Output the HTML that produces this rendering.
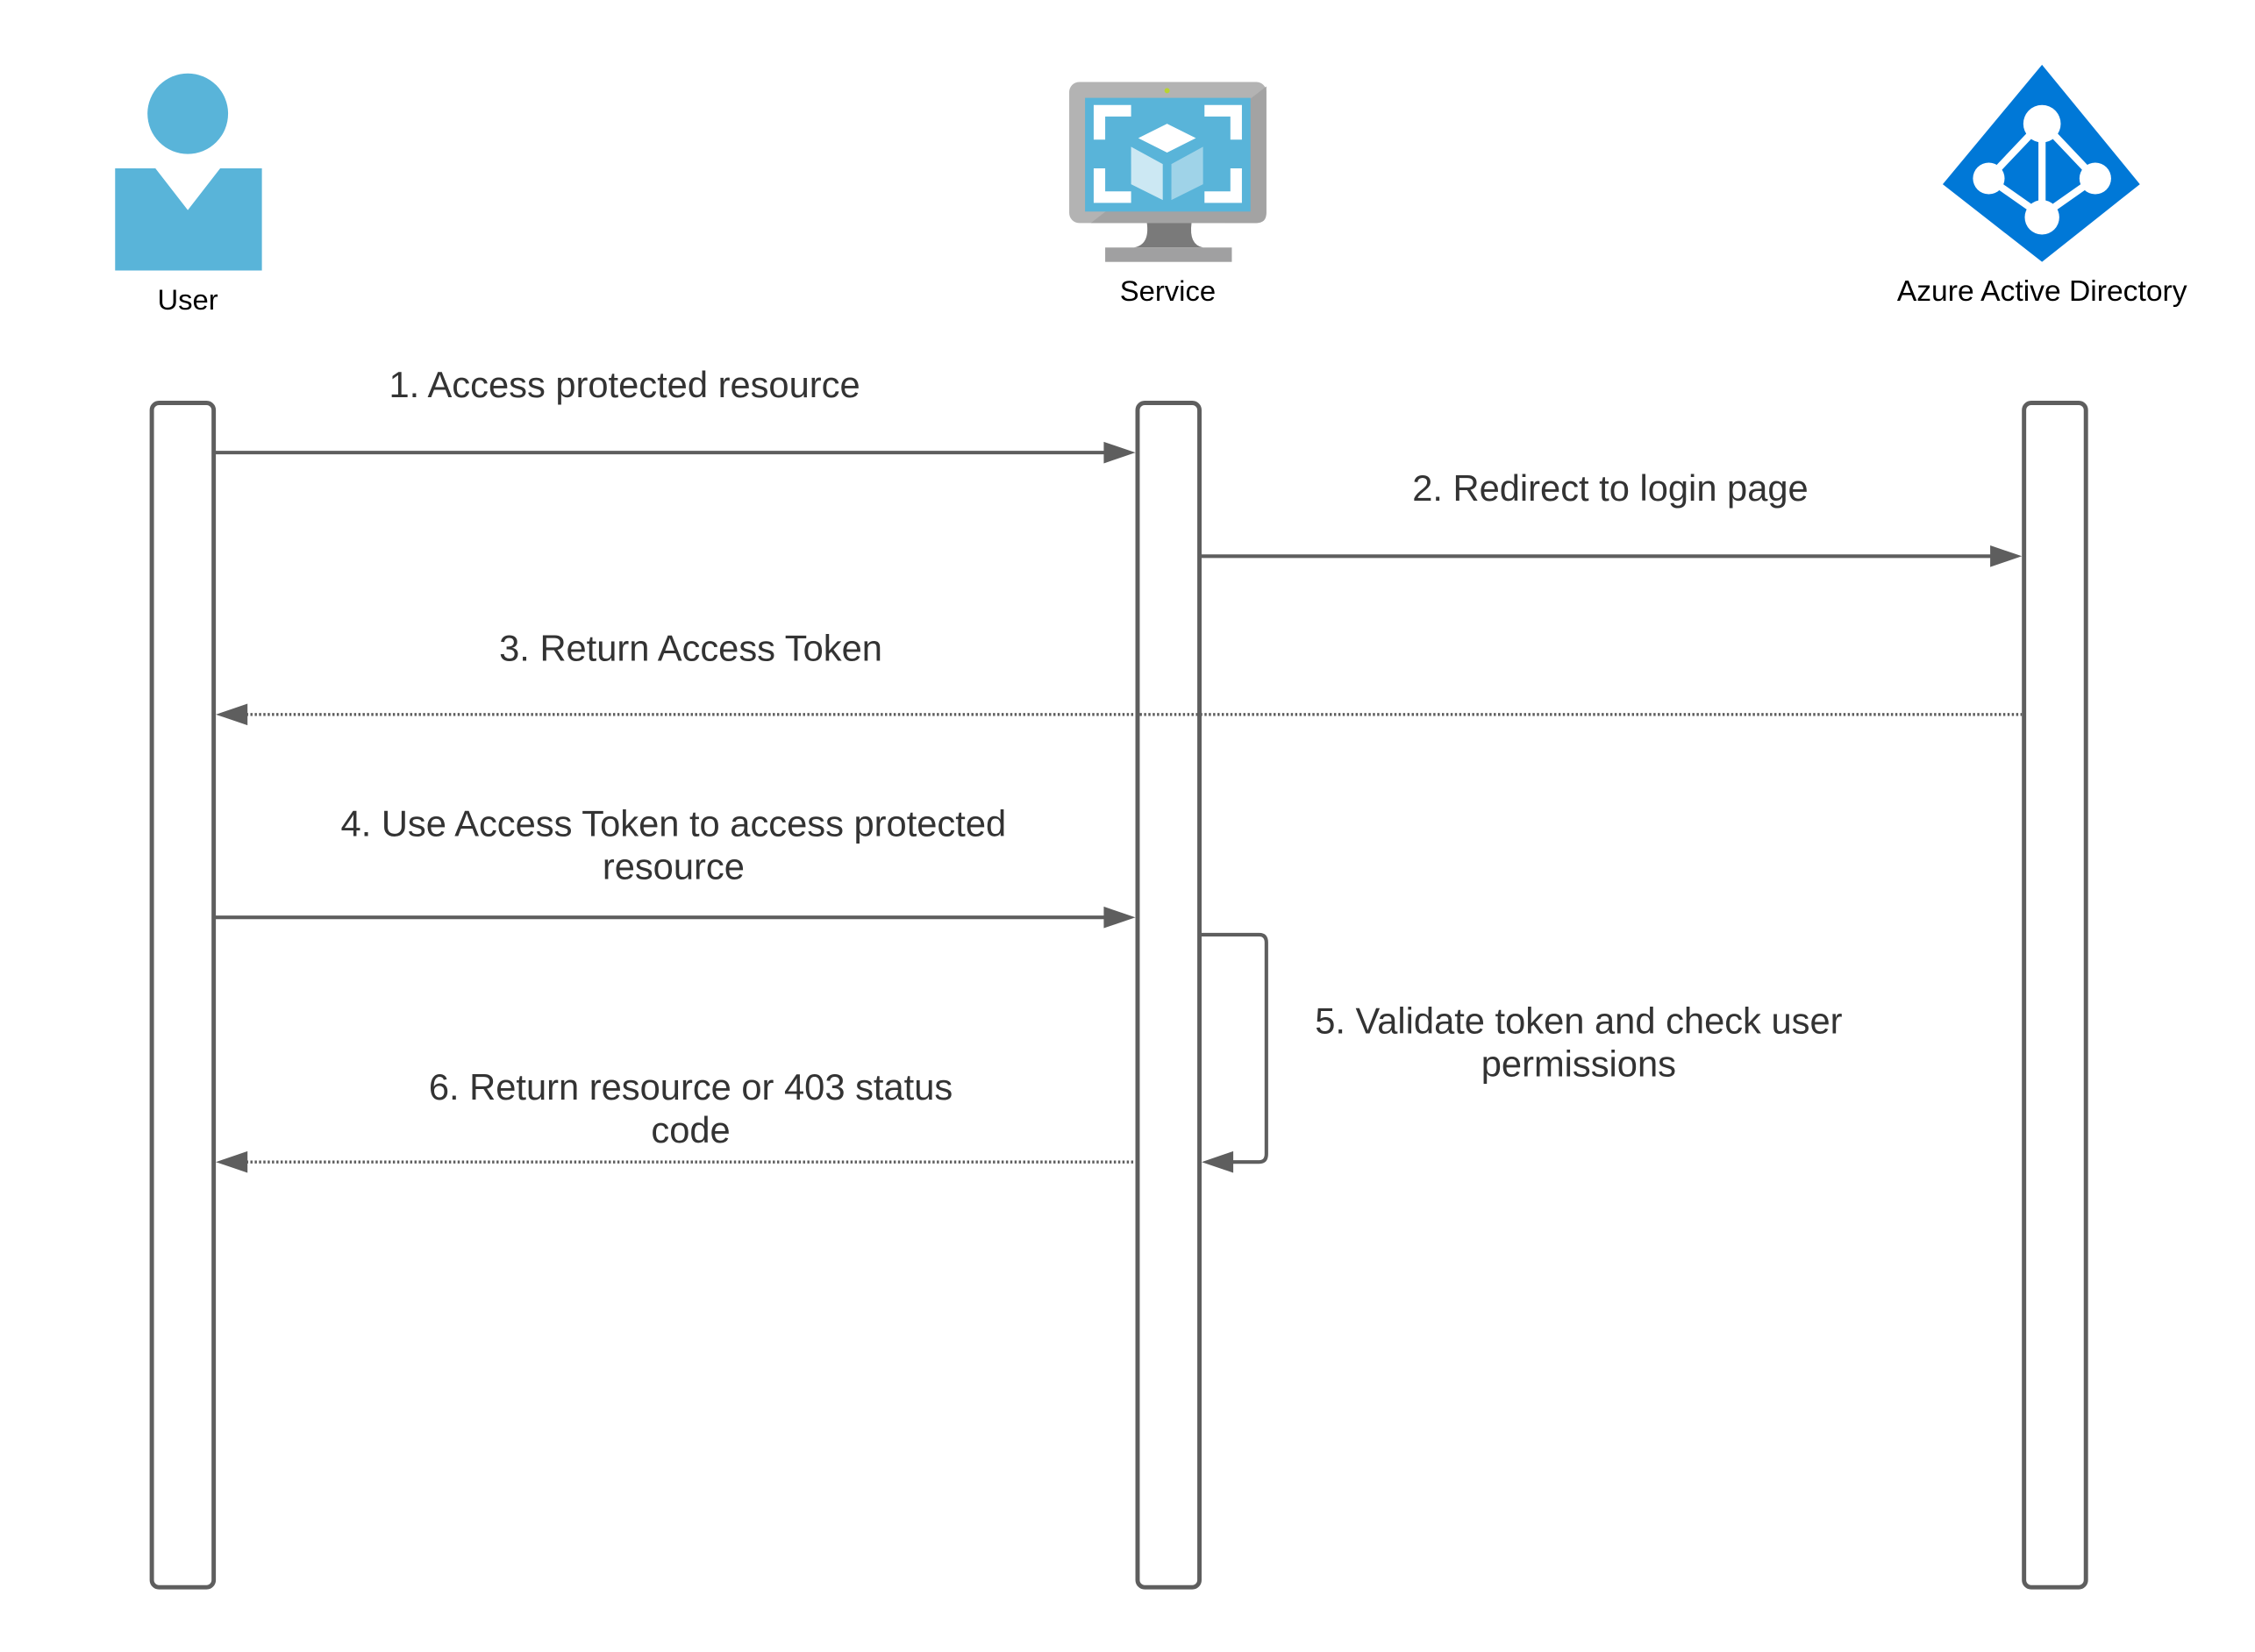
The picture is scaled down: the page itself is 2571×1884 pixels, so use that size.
<!DOCTYPE html>
<html><head><meta charset="utf-8"><style>
html,body{margin:0;padding:0;background:#fff;}
svg{display:block;}
text{font-family:"Liberation Sans",Arial,sans-serif;}
</style></head><body>
<svg width="2571" height="1884" viewBox="0 0 1567 1148" preserveAspectRatio="none" xmlns="http://www.w3.org/2000/svg">
<rect width="1567" height="1148" fill="#fff"/>
<!-- User -->
<circle cx="130.5" cy="79" r="28" fill="#59b4d9"/>
<path d="M80 117 H108 L130.5 146 L153 117 H182 V188 H80 Z" fill="#59b4d9"/>
<text x="130.5" y="215" font-size="20" text-anchor="middle" fill="#000">User</text>
<!-- Service -->
<rect x="743" y="57" width="137" height="98" rx="7" fill="#b3b3b3"/>
<path d="M880 70 V148 Q880 155 873 155 H758 L880 60 Z" fill="#a3a3a3"/>
<rect x="754" y="68" width="115" height="79" fill="#59b4d9"/>
<circle cx="811" cy="63" r="1.8" fill="#b8d432"/>
<g fill="#fff">
<path d="M760 73 H786 V81 H768 V97 H760 Z"/>
<path d="M863 73 H837 V81 H855 V97 H863 Z"/>
<path d="M760 141 H786 V133 H768 V117 H760 Z"/>
<path d="M863 141 H837 V133 H855 V117 H863 Z"/>
<path d="M791 96 L811 86 L831 96 L811 106 Z"/>
</g>
<path d="M786 102 L808 114 V139 L786 128 Z" fill="#cce8f3"/>
<path d="M814 114 L836 102 V128 L814 139 Z" fill="#9fd3e8"/>
<path d="M797 155 H828 Q826 170 836 172 H788 Q799 170 797 155 Z" fill="#7a7a7a"/>
<rect x="768" y="172" width="88" height="10" fill="#a0a0a1"/>
<text x="811.5" y="209" font-size="20" text-anchor="middle" fill="#000">Service</text>
<!-- AAD -->
<path d="M1419 45 L1487 128 L1419 182 L1350 128 Z" fill="#0078d7"/>
<g stroke="#fff" stroke-width="5" fill="none">
<path d="M1419 85 L1382 124 L1419 150 L1456 124 Z"/>
<path d="M1419 85 V150"/>
</g>
<g fill="#fff">
<circle cx="1419" cy="86" r="13"/>
<circle cx="1382" cy="124" r="11"/>
<circle cx="1456" cy="124" r="11"/>
<circle cx="1419" cy="151" r="12"/>
</g>
<text x="1419" y="209" font-size="20.5" text-anchor="middle" fill="#000">Azure Active Directory</text>
<!-- lifelines -->
<g fill="#fff" stroke="#5e5e5e" stroke-width="3">
<rect x="105.5" y="280" width="43" height="823" rx="5"/>
<rect x="790.5" y="280" width="43" height="823" rx="5"/>
<rect x="1406.5" y="280" width="43" height="823" rx="5"/>
</g>
<!-- arrows -->
<g stroke="#5e5e5e" stroke-width="2.5" fill="none">
<path d="M149 314.5 H772"/>
<path d="M834 386.5 H1388"/>
<path d="M168 496.5 H1405" stroke-dasharray="1.5 1.5" stroke-width="2"/>
<path d="M149 637.5 H772"/>
<path d="M834 649.5 H875 Q880 649.5 880 655 V802 Q880 807.5 875 807.5 H852"/>
<path d="M168 807.5 H790" stroke-dasharray="1.5 1.5" stroke-width="2"/>
</g>
<g fill="#5e5e5e">
<path d="M789 314.5 L767 307 V322 Z"/>
<path d="M1405 386.5 L1383 379 V394 Z"/>
<path d="M150 496.5 L172 489 V504 Z"/>
<path d="M789 637.5 L767 630 V645 Z"/>
<path d="M835 807.5 L857 800 V815 Z"/>
<path d="M150 807.5 L172 800 V815 Z"/>
</g>
<g font-size="25.4" fill="#333" text-anchor="middle">
<text x="434" y="276">1. Access protected resource</text>
<text x="1119" y="348">2. Redirect to login page</text>
<text x="480" y="459">3. Return Access Token</text>
<text x="468" y="581">4. Use Access Token to access protected</text>
<text x="468" y="611">resource</text>
<text x="1097" y="718">5. Validate token and check user</text>
<text x="1097" y="748">permissions</text>
<text x="480" y="764">6. Return resource or 403 status</text>
<text x="480" y="794">code</text>
</g>
</svg>
</body></html>
